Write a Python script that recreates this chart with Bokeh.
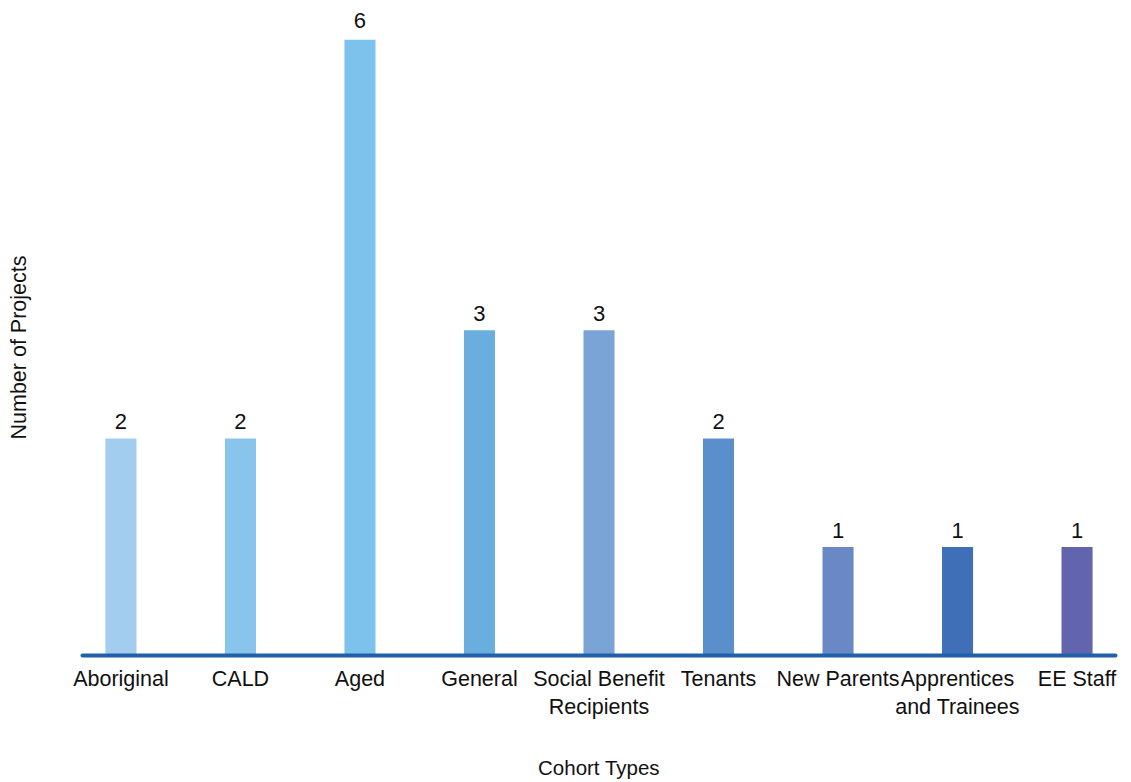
from bokeh.plotting import figure
from bokeh.models import (ColumnDataSource, FactorRange, Range1d, FixedTicker, Label,
                          CategoricalAxis, CustomJSTickFormatter)
from bokeh.embed import file_html
from bokeh.resources import INLINE

categories = ["Aboriginal", "CALD", "Aged", "General", "Social Benefit\nRecipients",
              "Tenants", "New Parents", "Apprentices\nand Trainees", "EE Staff"]
projects = [2, 2, 6, 3, 3, 2, 1, 1, 1]
colors = ["#A3CDEE", "#88C4EC", "#7DC2EC", "#69AEDE", "#7BA4D6",
          "#5B8FCB", "#6A88C6", "#3F6FB6", "#6265AE"]

y_top = 5.68
pad = 0.0396

src = ColumnDataSource(dict(cat=categories, val=projects, color=colors))

FONT = "Liberation Sans"
TXT = "#111111"

p = figure(width=1131, height=782, output_backend="svg", toolbar_location=None,
           x_range=FactorRange(factors=categories, range_padding=-pad),
           y_range=Range1d(0, y_top),
           min_border_left=82, min_border_right=16, min_border_top=39, min_border_bottom=124)

p.vbar(x="cat", top="val", width=0.26, bottom=0, color="color", line_color=None, source=src)

# categorical synthetic coordinate of factor i is i + 0.5
over_f, over_t = [], []
for i, (c, v) in enumerate(zip(categories, projects)):
    if v <= y_top:
        p.add_layout(Label(x=i + 0.5, y=v, text=str(v), text_align="center",
                           text_baseline="alphabetic", y_offset=17, text_font=FONT,
                           text_font_size="22px", text_color=TXT))
    else:
        over_f.append(c)
        over_t.append(str(v))

# values that run past the top of the frame get their label on a top axis
top_ax = CategoricalAxis(formatter=CustomJSTickFormatter(
    args=dict(facs=over_f, labs=over_t),
    code="const i = facs.indexOf(tick); return i >= 0 ? labs[i] : '';"))
top_ax.axis_line_color = None
top_ax.major_tick_line_color = None
top_ax.minor_tick_line_color = None
top_ax.major_tick_out = 0
top_ax.major_label_standoff = 12
top_ax.major_label_text_font = FONT
top_ax.major_label_text_font_size = "22px"
top_ax.major_label_text_color = TXT
p.add_layout(top_ax, "above")

p.outline_line_color = None
p.xgrid.visible = False
p.ygrid.visible = False

xa = p.below[0]
xa.axis_line_color = "#2060A8"
xa.axis_line_width = 4
xa.axis_line_cap = "round"
xa.major_tick_line_color = None
xa.minor_tick_line_color = None
xa.major_tick_out = 0
xa.major_label_standoff = 11
xa.major_label_text_font = FONT
xa.major_label_text_font_size = "21.5px"
xa.major_label_text_color = TXT
xa.axis_label = "Cohort Types"
xa.axis_label_text_font = FONT
xa.axis_label_text_font_size = "20.5px"
xa.axis_label_text_font_style = "normal"
xa.axis_label_text_color = TXT
xa.axis_label_standoff = 34

ya = p.yaxis[0]
ya.ticker = FixedTicker(ticks=[])
ya.axis_line_color = None
ya.major_tick_line_color = None
ya.minor_tick_line_color = None
ya.major_label_text_font_size = "0px"
ya.axis_label = "Number of Projects"
ya.axis_label_text_font = FONT
ya.axis_label_text_font_size = "21.5px"
ya.axis_label_text_font_style = "normal"
ya.axis_label_text_color = TXT
ya.axis_label_standoff = 52

open("out.html", "w").write(file_html(p, INLINE))
